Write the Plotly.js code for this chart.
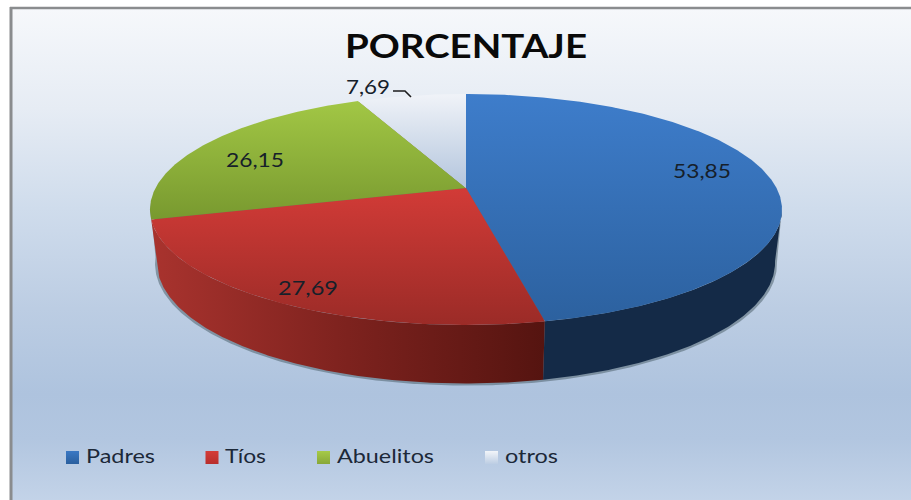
<!DOCTYPE html>
<html>
<head>
<meta charset="utf-8">
<script src="https://cdn.plot.ly/plotly-3.0.1.min.js"></script>
<style>
html,body{margin:0;padding:0;background:#fff;overflow:hidden}
#wrap{position:relative;width:911px;height:500px}
#bg{position:absolute;left:12px;top:9px;right:0;bottom:0;
background:linear-gradient(to bottom,#f6f8fb 0,#e6ecf4 100px,#cfdcec 200px,#bccde3 300px,#aec3de 385px,#b2c6e0 430px,#c3d3e8 491px)}
#chart{position:absolute;left:0;top:0;width:911px;height:500px}
</style>
</head>
<body>
<div id="wrap"><div id="bg"></div><div id="chart"></div></div>
<script>
const chartTitle = "PORCENTAJE";
const categories = ["Padres", "Tíos", "Abuelitos", "otros"];
const values = [53.85, 27.69, 26.15, 7.69];
const valueLabels = ["53,85", "27,69", "26,15", "7,69"];
const labelX = [702, 308, 255, 368];
const labelY = [173, 290, 162, 89];
const labelWidths = [58, 60, 58, 44];
const legendX = [72.5, 212, 323.5, 491.5];
const legendTextX = [86, 225, 337, 505];
const legendWidths = [69, 41, 97, 53];
const legendColors = ["#3a78c4", "#d43c38", "#a6ca48", "#f2f5f9"];
const legendColorsLow = ["#2a5f9e", "#b82e2c", "#88a738", "#bccde3"];

// Perspective projection of the pie disc onto the page
const hub = {x: 466, y: 188}, R = 310.5, S = 111.5, K = 0.186;
function project(aDeg, fx, fy, hubY, dy) {
  const a = aDeg * Math.PI / 180, cx = Math.sin(a), cy = Math.cos(a), w = 1 + K * cy;
  return [hub.x + fx * R * cx / w, hubY + (dy || 0) - fy * S * cy / w];
}
const rim = a => project(a, 1, 1, hub.y);
const innerRim = a => project(a, 0.99, 0.99, hub.y);
const floorRim = a => project(a, 0.978, 1.048, 240);
const shadeRim = a => project(a, 0.984, 1.052, 240, 1.5);
function arc(from, to, fn) {
  const n = Math.max(2, Math.ceil(Math.abs(to - from) * 2)), out = [];
  for (let i = 0; i <= n; i++) out.push(fn(from + (to - from) * i / n));
  return out;
}
const total = values.reduce((s, v) => s + v, 0);
const starts = [], ends = [];
values.reduce((acc, v, i) => { starts[i] = acc; ends[i] = acc + v / total * 360; return ends[i]; }, 0);

function polyTrace(pts, fill, name) {
  return {x: pts.map(p => p[0]), y: pts.map(p => p[1]), mode: "lines", fill: "toself",
    fillcolor: fill, line: {width: 0, color: fill}, hoverinfo: "skip", showlegend: false, name: name};
}
const traces = [];
const gradFor = [];
// soft shadow beneath the wall
traces.push(polyTrace(arc(100, ends[1] + 8, shadeRim).concat(arc(ends[1] + 8, 100, rim)), "rgba(70,90,100,0.5)", "shadow")); gradFor.push(null);
// walls
traces.push(polyTrace(arc(100, ends[0], rim).concat(arc(ends[0], 100, floorRim)), "#142a47", categories[0] + " wall")); gradFor.push(null);
traces.push(polyTrace(arc(starts[1], ends[1], rim).concat(arc(ends[1], starts[1], floorRim)), "#7a201c", categories[1] + " wall")); gradFor.push("gWallRed");
// underlay that closes the seams between the top faces
traces.push(polyTrace(arc(0, 336, innerRim).concat([[hub.x, hub.y]]), "#7c5560", "seams")); gradFor.push(null);
// top faces
const topGrad = ["gBlue", "gRed", "gGreen", "gOther"];
const topFlat = ["#3570b8", "#b93431", "#8fb23a", "#d5dfec"];
categories.forEach((c, i) => {
  const pts = [[hub.x, hub.y]].concat(arc(starts[i], ends[i], rim), [[hub.x, hub.y]]);
  traces.push(polyTrace(pts, topFlat[i], c)); gradFor.push(topGrad[i]);
});
// leader line of the smallest slice
traces.push({x: [393, 405, 411], y: [91, 91, 97], mode: "lines", line: {color: "#1c1c1c", width: 1.6},
  hoverinfo: "skip", showlegend: false}); gradFor.push(null);
// value labels
traces.push({x: labelX, y: labelY, text: valueLabels, mode: "text", textposition: "middle center",
  textfont: {family: "Lato, 'Open Sans', sans-serif", size: 19, color: "#16202a"}, hoverinfo: "skip", showlegend: false}); gradFor.push(null);
// legend swatches
traces.push({x: legendX, y: legendX.map(() => 457.5), mode: "markers",
  marker: {symbol: "square", size: 13, color: legendColors, line: {width: 0},
    gradient: {type: "vertical", color: legendColorsLow}},
  hoverinfo: "skip", showlegend: false}); gradFor.push(null);
// legend names
traces.push({x: legendTextX, y: legendX.map(() => 458), text: categories, mode: "text", textposition: "middle right",
  textfont: {family: "Lato, 'Open Sans', sans-serif", size: 20, color: "#1c2838"}, hoverinfo: "skip", showlegend: false}); gradFor.push(null);

const layout = {
  width: 911, height: 500, margin: {l: 0, r: 0, t: 0, b: 0},
  paper_bgcolor: "rgba(0,0,0,0)", plot_bgcolor: "rgba(0,0,0,0)", showlegend: false,
  title: {text: chartTitle, x: 466 / 911, xanchor: "center", y: 1 - 47 / 500, yanchor: "middle",
    font: {family: "Lato, 'Open Sans', sans-serif", size: 32, color: "#0a0a0a", weight: 700}},
  xaxis: {range: [0, 911], visible: false, fixedrange: true},
  yaxis: {range: [500, 0], visible: false, fixedrange: true},
  shapes: [
    {type: "line", x0: 11, x1: 11, y0: 7, y1: 500, line: {color: "#8a8c8e", width: 3}},
    {type: "line", x0: 10, x1: 911, y0: 8, y1: 8, line: {color: "#8a8c8e", width: 2.5}}
  ]
};

const gradients = {
  gBlue: ["0 0 0 1", ["#3e7dcb", "#2c619f"]],
  gRed: ["0 0 0 1", ["#d23b37", "#9b2b27"]],
  gGreen: ["0 0 0 1", ["#a2c745", "#78992f"]],
  gOther: ["0 0 0 1", ["#f0f3f8", "#b3c5dd"]],
  gWallRed: ["0 0 1 0", ["#a9332e", "#7d221e", "#551410"]]
};
function decorate(gd) {
  const svg = gd.querySelector(".main-svg");
  let defs = svg.querySelector("defs");
  Object.keys(gradients).forEach(id => {
    if (svg.querySelector("#" + id)) return;
    const g = document.createElementNS("http://www.w3.org/2000/svg", "linearGradient");
    const c = gradients[id][0].split(" ");
    g.setAttribute("id", id);
    g.setAttribute("x1", c[0]); g.setAttribute("y1", c[1]); g.setAttribute("x2", c[2]); g.setAttribute("y2", c[3]);
    gradients[id][1].forEach((col, i, arr) => {
      const s = document.createElementNS("http://www.w3.org/2000/svg", "stop");
      s.setAttribute("offset", i / (arr.length - 1)); s.setAttribute("stop-color", col);
      g.appendChild(s);
    });
    defs.appendChild(g);
  });
  gd.querySelectorAll(".scatterlayer .trace").forEach((t, i) => {
    if (!gradFor[i]) return;
    const f = t.querySelector(".js-fill");
    if (f) f.style.fill = "url(#" + gradFor[i] + ")";
  });
  const widths = {};
  valueLabels.forEach((l, i) => widths[l] = labelWidths[i]);
  categories.forEach((l, i) => widths[l] = legendWidths[i]);
  widths[chartTitle] = 242;
  gd.querySelectorAll(".textpoint text, .gtitle").forEach(el => {
    const w = widths[el.textContent];
    if (w) { el.setAttribute("textLength", w); el.setAttribute("lengthAdjust", "spacingAndGlyphs"); }
  });
}
const gd = document.getElementById("chart");
Plotly.newPlot(gd, traces, layout, {displayModeBar: false, staticPlot: true}).then(decorate);
</script>
</body>
</html>
